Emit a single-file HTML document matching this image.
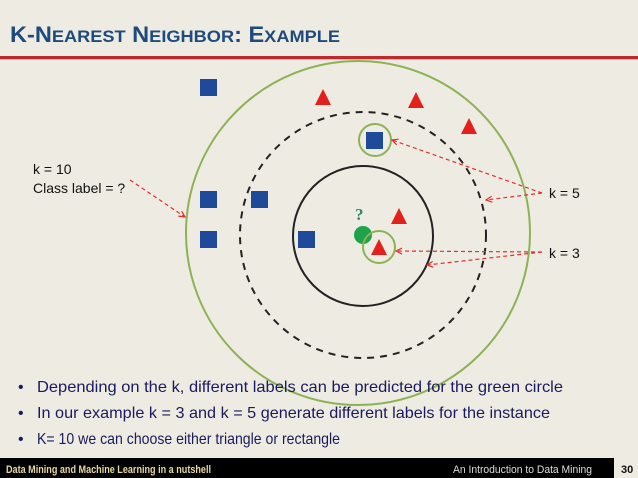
<!DOCTYPE html>
<html><head><meta charset="utf-8"><style>
html,body{margin:0;padding:0;background:#EEEBE2;}
svg{display:block;font-family:"Liberation Sans",sans-serif;}
</style></head><body>
<svg width="638" height="478" viewBox="0 0 638 478" xmlns="http://www.w3.org/2000/svg">
<defs>
<marker id="ar" markerWidth="8" markerHeight="8" refX="7" refY="4" orient="auto" markerUnits="userSpaceOnUse">
<path d="M1,1 L7,4 L1,7" fill="none" stroke="#E03030" stroke-width="1.2"/>
</marker>
</defs>
<rect width="638" height="478" fill="#EEEBE2"/>
<text x="10" y="42" fill="#1F4A7E" font-weight="bold" font-size="22" textLength="330" lengthAdjust="spacingAndGlyphs">K-N<tspan font-size="17">EAREST</tspan> N<tspan font-size="17">EIGHBOR</tspan>: E<tspan font-size="17">XAMPLE</tspan></text>
<rect x="0" y="56" width="638" height="3" fill="#C0282D"/>
<rect x="0" y="59" width="638" height="1" fill="#9a9a9a" opacity="0.5"/>

<circle cx="358" cy="233" r="172" fill="none" stroke="#8DB255" stroke-width="2"/>
<circle cx="363" cy="235" r="123" fill="none" stroke="#222" stroke-width="2" stroke-dasharray="7,6"/>
<circle cx="363" cy="236" r="70" fill="none" stroke="#222" stroke-width="2"/>

<g fill="#1F4A9A">
<rect x="200" y="79" width="17" height="17"/>
<rect x="366" y="132" width="17" height="17"/>
<rect x="200" y="191" width="17" height="17"/>
<rect x="251" y="191" width="17" height="17"/>
<rect x="200" y="231" width="17" height="17"/>
<rect x="298" y="231" width="17" height="17"/>
</g>
<g fill="#E3201B">
<polygon points="323,89 331,105 315,105"/>
<polygon points="416,92 424,108 408,108"/>
<polygon points="469,118 477,134 461,134"/>
<polygon points="399,208 407,224 391,224"/>
<polygon points="379,239 387,255 371,255"/>
</g>
<circle cx="375" cy="140" r="16" fill="none" stroke="#8DB255" stroke-width="2"/>
<circle cx="363" cy="235" r="9" fill="#1EA34A"/>
<circle cx="379" cy="247" r="16" fill="none" stroke="#8DB255" stroke-width="2"/>
<text x="355" y="220" fill="#2E8B6A" font-family="Liberation Serif,serif" font-weight="bold" font-size="17">?</text>

<g stroke="#E03030" stroke-width="1.2" stroke-dasharray="4,3" fill="none" marker-end="url(#ar)">
<line x1="130" y1="180" x2="185" y2="217"/>
<line x1="542" y1="193" x2="392" y2="140"/>
<line x1="542" y1="193" x2="486" y2="200"/>
<line x1="542" y1="252" x2="396" y2="251"/>
<line x1="542" y1="252" x2="427" y2="265"/>
</g>

<g fill="#111" font-size="14">
<text x="33" y="174">k = 10</text>
<text x="33" y="193">Class label = ?</text>
<text x="549" y="198">k = 5</text>
<text x="549" y="258">k = 3</text>
</g>

<g fill="#1A1A5E" font-size="16">
<text x="18" y="392">•</text>
<text x="37" y="392" textLength="526" lengthAdjust="spacingAndGlyphs">Depending on the k, different labels can be predicted for the green circle</text>
<text x="18" y="418">•</text>
<text x="37" y="418" textLength="513" lengthAdjust="spacingAndGlyphs">In our example k = 3 and k = 5 generate different labels for the instance</text>
<text x="18" y="444">•</text>
<text x="37" y="444" textLength="303" lengthAdjust="spacingAndGlyphs">K= 10 we can choose either triangle or rectangle</text>
</g>

<rect x="0" y="458" width="614" height="20" fill="#000"/>
<text x="6" y="473" fill="#E8D9A0" font-size="11" font-weight="bold" textLength="205" lengthAdjust="spacingAndGlyphs">Data Mining and Machine Learning in a nutshell</text>
<text x="453" y="473" fill="#ddd" font-size="11" textLength="139" lengthAdjust="spacingAndGlyphs">An Introduction to Data Mining</text>
<text x="621" y="473" fill="#111" font-size="11" font-weight="bold">30</text>
</svg>
</body></html>
